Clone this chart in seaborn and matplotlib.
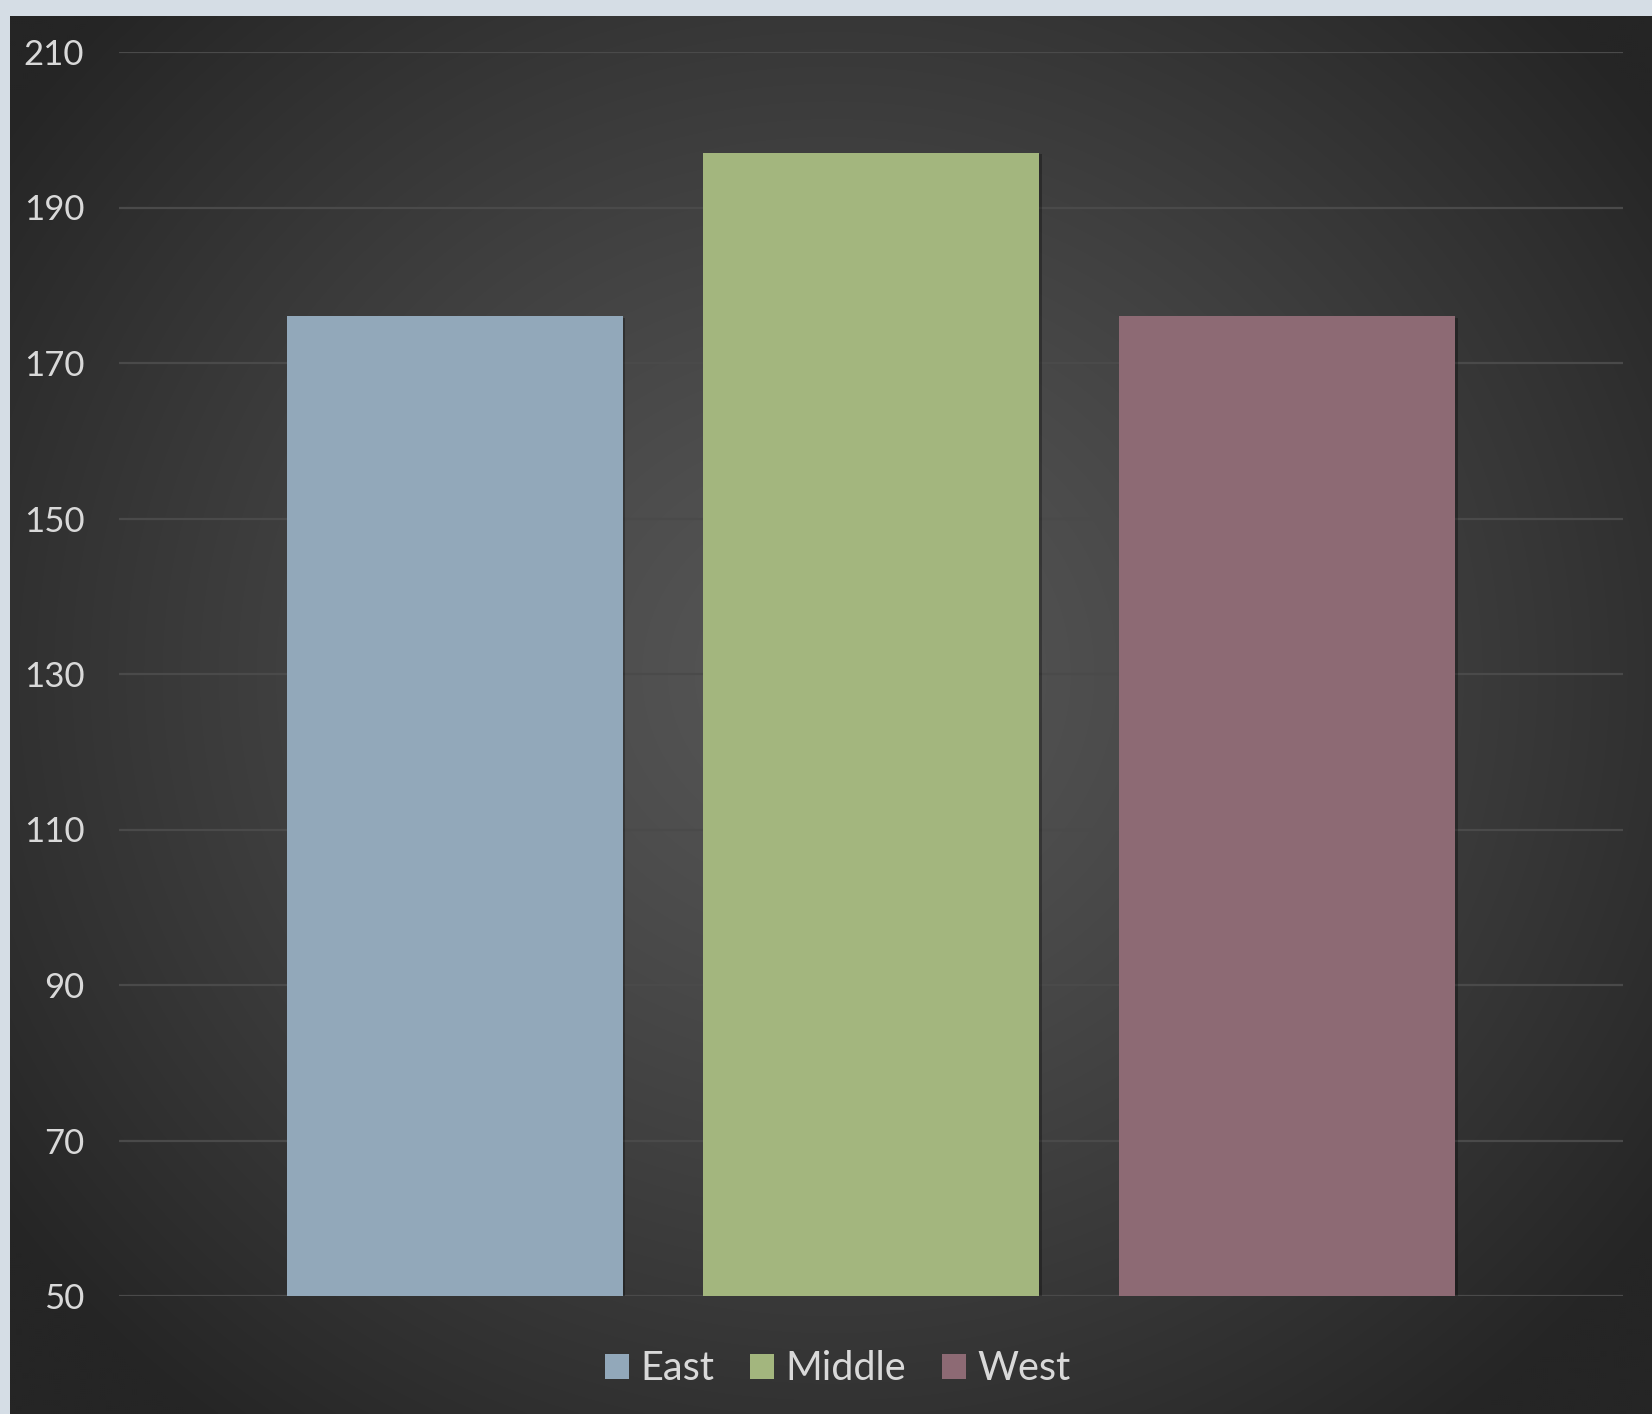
import numpy as np
import pandas as pd
import matplotlib
matplotlib.use("Agg")
import matplotlib.pyplot as plt
import matplotlib.patheffects as pe
from matplotlib.patches import Patch
import seaborn as sns

# Data
regions = ["East", "Middle", "West"]
values = [176, 197, 176]
bar_colors = ["#92A8BA", "#A3B67E", "#8D6A74"]
y_ticks = [50, 70, 90, 110, 130, 150, 170, 190, 210]

sns.set_theme(style="dark")
plt.rcParams["font.family"] = ["Lato", "DejaVu Sans"]

W, H, DPI = 1652, 1414, 100
fig = plt.figure(figsize=(W / DPI, H / DPI), dpi=DPI, facecolor="#D5DDE5")

# Dark radial-gradient panel behind the chart
bg = fig.add_axes([10 / W, 0, 1 - 10 / W, 1 - 16 / H], zorder=-2)
gh, gw = 700, 820
yy, xx = np.mgrid[0:gh, 0:gw]
cx, cy = gw * 0.50, gh * 0.47
r = np.sqrt(((xx - cx) / (gw * 0.62)) ** 2 + ((yy - cy) / (gh * 0.68)) ** 2)
r = np.clip(r, 0, 1)
lo, hi = 0x25 / 255, 0x56 / 255
img = hi - (hi - lo) * r ** 1.25
bg.imshow(np.dstack([img, img, img]), aspect="auto", extent=[0, 1, 0, 1],
          interpolation="bilinear")
bg.set_axis_off()

ax = fig.add_axes([119 / W, 1 - 1296 / H, (1622.5 - 119) / W, (1296 - 52) / H])
ax.set_facecolor("none")

df = pd.DataFrame({"region": regions, "value": values})
sns.barplot(data=df, x="region", y="value", hue="region", palette=bar_colors,
            width=0.807, saturation=1, legend=False, ax=ax, zorder=3)

for patch in ax.patches:
    patch.set_edgecolor("none")
    patch.set_path_effects([
        pe.SimplePatchShadow(offset=(2, -1), shadow_rgbFace="black", alpha=0.3),
        pe.Normal(),
    ])

ax.set_ylim(50, 210)
ax.set_xlim(-0.806, 2.805)
ax.set_yticks(y_ticks)
ax.set_yticklabels([str(t) for t in y_ticks])
ax.yaxis.grid(True, color="#4A4A4A", linewidth=1.6)
ax.xaxis.grid(False)
ax.set_axisbelow(True)
ax.set_xticks([])
ax.set_xlabel("")
ax.set_ylabel("")
ax.tick_params(axis="y", length=0, pad=25, labelsize=25, labelcolor="#D9D9D9")
for s in ax.spines.values():
    s.set_visible(False)

handles = [Patch(facecolor=c, edgecolor="none", label=l) for c, l in zip(bar_colors, regions)]
leg = fig.legend(handles=handles, loc="center", ncol=3,
                 bbox_to_anchor=(838 / W, 1 - 1369 / H), frameon=False,
                 fontsize=28.5, handlelength=0.6, handleheight=0.6,
                 handletextpad=0.3, columnspacing=0.9)
for t in leg.get_texts():
    t.set_color("#D9D9D9")

fig.savefig("out.png", dpi=DPI, facecolor=fig.get_facecolor())
